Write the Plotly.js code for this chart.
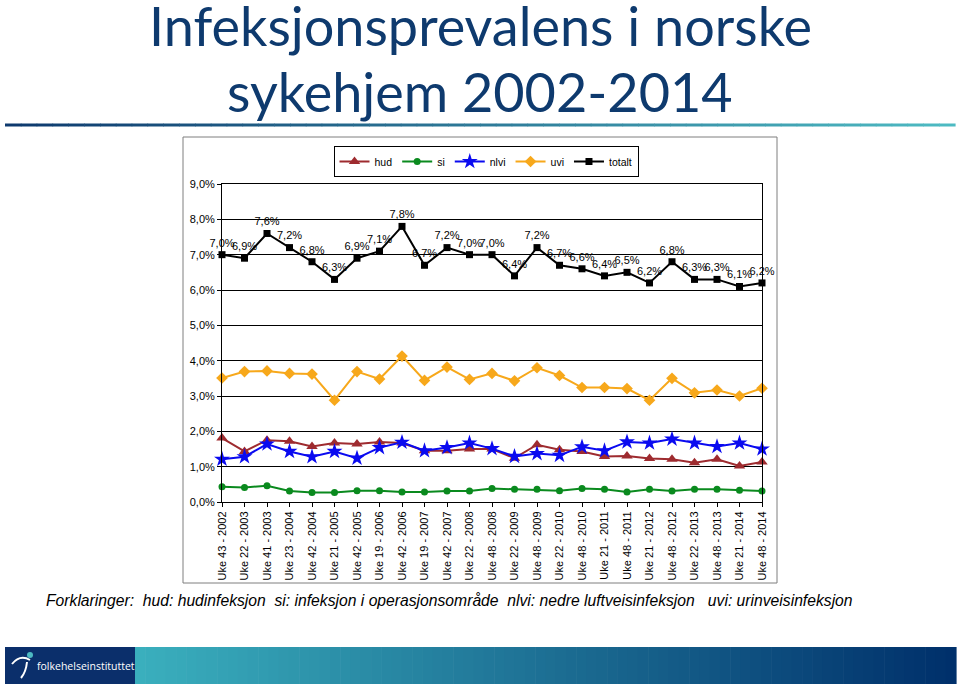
<!DOCTYPE html>
<html>
<head>
<meta charset="utf-8">
<script src="https://cdn.plot.ly/plotly-3.0.1.min.js"></script>
<style>
html,body{margin:0;padding:0;background:#fff;}
#chart{width:960px;height:686px;}
</style>
</head>
<body>
<div id="chart"></div>
<script>
// ---- data ----
const categories = [
  "Uke 43 - 2002","Uke 22 - 2003","Uke 41 - 2003","Uke 23 - 2004","Uke 42 - 2004",
  "Uke 21 - 2005","Uke 42 - 2005","Uke 19 - 2006","Uke 42 - 2006","Uke 19 - 2007",
  "Uke 42 - 2007","Uke 22 - 2008","Uke 48 - 2008","Uke 22 - 2009","Uke 48 - 2009",
  "Uke 22 - 2010","Uke 48 - 2010","Uke 21 - 2011","Uke 48 - 2011","Uke 21 - 2012",
  "Uke 48 - 2012","Uke 22 - 2013","Uke 48 - 2013","Uke 21 - 2014","Uke 48 - 2014"
];
const hud    = [1.81,1.43,1.75,1.72,1.57,1.67,1.64,1.70,1.67,1.45,1.45,1.50,1.50,1.24,1.62,1.48,1.43,1.29,1.30,1.23,1.21,1.11,1.21,1.02,1.13];
const si     = [0.43,0.41,0.46,0.31,0.27,0.27,0.32,0.32,0.28,0.28,0.31,0.31,0.38,0.36,0.36,0.32,0.38,0.36,0.28,0.36,0.31,0.36,0.36,0.33,0.31];
const nlvi   = [1.21,1.28,1.64,1.43,1.28,1.43,1.24,1.54,1.69,1.45,1.54,1.67,1.51,1.29,1.37,1.32,1.56,1.45,1.70,1.67,1.78,1.67,1.57,1.67,1.50];
const uvi    = [3.51,3.69,3.71,3.64,3.62,2.88,3.69,3.48,4.13,3.44,3.82,3.47,3.64,3.43,3.80,3.58,3.24,3.24,3.21,2.88,3.50,3.09,3.17,3.00,3.22];
const totalt = [7.0,6.9,7.6,7.2,6.8,6.3,6.9,7.1,7.8,6.7,7.2,7.0,7.0,6.4,7.2,6.7,6.6,6.4,6.5,6.2,6.8,6.3,6.3,6.1,6.2];
const seriesNames = ["hud","si","nlvi","uvi","totalt"];
const yTicks = [0,1,2,3,4,5,6,7,8,9];

// ---- geometry helpers (pixels -> paper) ----
const W = 960, H = 686;
const px = x => x / W;
const py = y => 1 - y / H;
const FONT = "Liberation Sans, Arial, sans-serif";
const TFONT = "Lato, Open Sans, sans-serif";

const xIdx = categories.map((c, i) => i);

function tr(name, y, color, symbol, size, extra) {
  return Object.assign({
    type: "scatter", mode: "lines+markers", name: name,
    x: xIdx, y: y,
    line: {color: color, width: 2},
    marker: {color: color, symbol: symbol, size: size, line: {width: 0}},
    cliponaxis: false,
    hoverinfo: "skip"
  }, extra || {});
}

const data = [
  tr(seriesNames[0], hud, "#9E2B2F", "triangle-up", 10),
  tr(seriesNames[1], si, "#0A8A1E", "circle", 7),
  tr(seriesNames[2], nlvi, "#0A0AF0", "star", 12),
  tr(seriesNames[3], uvi, "#F7A81B", "diamond", 9),
  tr(seriesNames[4], totalt, "#000000", "square", 7, {
    mode: "lines+markers+text",
    text: totalt.map(v => v.toFixed(1).replace(".", ",") + "%"),
    textposition: "top center",
    textfont: {family: FONT, size: 11, color: "#000"}
  })
];

// ---- decorative shapes ----
const shapes = [];
function lerp(a, b, t) { return Math.round(a + (b - a) * t); }
function hexToRgb(h) { return [parseInt(h.substr(1,2),16), parseInt(h.substr(3,2),16), parseInt(h.substr(5,2),16)]; }
function gradRects(x0, x1, y0, y1, c0, c1, n) {
  const a = hexToRgb(c0), b = hexToRgb(c1);
  for (let i = 0; i < n; i++) {
    const t = i / (n - 1);
    const col = `rgb(${lerp(a[0],b[0],t)},${lerp(a[1],b[1],t)},${lerp(a[2],b[2],t)})`;
    const xa = x0 + (x1 - x0) * i / n, xb = x0 + (x1 - x0) * (i + 1) / n + 0.6;
    shapes.push({type: "rect", xref: "paper", yref: "paper", layer: "below",
      x0: px(xa), x1: px(xb), y0: py(y1), y1: py(y0),
      fillcolor: col, line: {width: 0}});
  }
}
// title underline
gradRects(5, 955, 123.5, 126.5, "#0E3A6E", "#4DBAC2", 60);
// chart frame
shapes.push({type: "rect", xref: "paper", yref: "paper", layer: "below",
  x0: px(183), x1: px(777), y0: py(583), y1: py(137),
  line: {color: "#7f7f7f", width: 1}, fillcolor: "#ffffff"});
// footer
gradRects(135, 956, 647, 684, "#3AAFBD", "#00306B", 80);
shapes.push({type: "rect", xref: "paper", yref: "paper",
  x0: px(5), x1: px(135), y0: py(684), y1: py(647),
  fillcolor: "#0B2F6B", line: {width: 0}});
// logo figure
shapes.push({type: "path", xref: "paper", yref: "paper",
  path: `M ${px(12)} ${py(664)} Q ${px(20)} ${py(654)} ${px(30)} ${py(660)}`,
  line: {color: "#ffffff", width: 2}});
shapes.push({type: "path", xref: "paper", yref: "paper",
  path: `M ${px(27)} ${py(662)} Q ${px(26)} ${py(672)} ${px(21)} ${py(678)}`,
  line: {color: "#ffffff", width: 2}});
shapes.push({type: "circle", xref: "paper", yref: "paper",
  x0: px(27), x1: px(33), y0: py(658), y1: py(652),
  fillcolor: "#4DBAC2", line: {width: 0}});

const annotations = [
  {text: "Infeksjonsprevalens i norske", x: 0.5, y: py(26), xref: "paper", yref: "paper",
   xanchor: "center", yanchor: "middle", showarrow: false,
   font: {family: TFONT, size: 54, color: "#0E3A6E"}},
  {text: "sykehjem 2002-2014", x: 0.5, y: py(92), xref: "paper", yref: "paper",
   xanchor: "center", yanchor: "middle", showarrow: false,
   font: {family: TFONT, size: 54, color: "#0E3A6E"}},
  {text: "<i>Forklaringer:  hud: hudinfeksjon  si: infeksjon i operasjonsområde  nlvi: nedre luftveisinfeksjon   uvi: urinveisinfeksjon</i>",
   x: px(44), y: py(600), xref: "paper", yref: "paper", xanchor: "left", yanchor: "middle",
   showarrow: false, font: {family: FONT, size: 15.7, color: "#000"}},
  {text: "folkehelseinstituttet", x: px(35), y: py(666), xref: "paper", yref: "paper",
   xanchor: "left", yanchor: "middle", showarrow: false,
   font: {family: "Open Sans, sans-serif", size: 10.5, color: "#ffffff"}}
];

const layout = {
  width: W, height: H,
  margin: {l: 0, r: 0, t: 0, b: 0, pad: 0},
  paper_bgcolor: "#ffffff", plot_bgcolor: "#ffffff",
  separators: ", ",
  showlegend: true,
  legend: {
    orientation: "h", x: px(486), y: py(146), xanchor: "center", yanchor: "top",
    bordercolor: "#000", borderwidth: 1, bgcolor: "#fff",
    font: {family: FONT, size: 10.5, color: "#000"},
    itemwidth: 30, tracegroupgap: 0
  },
  xaxis: {
    domain: [px(222), px(762)],
    range: [0, categories.length - 1],
    tickmode: "array", tickvals: xIdx, ticktext: categories,
    tickangle: -90, ticks: "outside", ticklen: 4, tickcolor: "#000",
    showline: true, linecolor: "#000", linewidth: 1, mirror: true,
    showgrid: false, zeroline: false,
    tickfont: {family: FONT, size: 11, color: "#000"}
  },
  yaxis: {
    domain: [py(502), py(184)],
    range: [0, 9],
    tickmode: "array", tickvals: yTicks,
    ticktext: yTicks.map(v => v.toFixed(1).replace(".", ",") + "%"),
    ticks: "outside", ticklen: 4, tickcolor: "#000",
    showline: true, linecolor: "#000", linewidth: 1, mirror: true,
    showgrid: true, gridcolor: "#000", gridwidth: 1, zeroline: false,
    tickfont: {family: FONT, size: 11, color: "#000"}
  },
  shapes: shapes,
  annotations: annotations
};

Plotly.newPlot("chart", data, layout, {staticPlot: true, displayModeBar: false});
</script>
</body>
</html>
